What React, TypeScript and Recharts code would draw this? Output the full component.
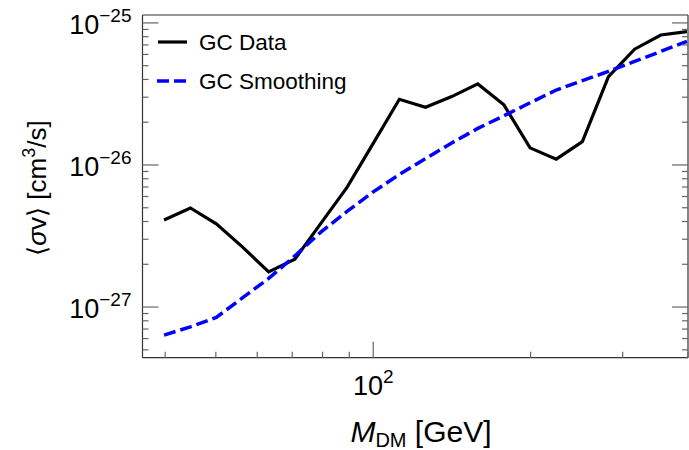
import React from 'react';
import { LineChart, Line, XAxis, YAxis } from 'recharts';

// Dark-matter mass [GeV]
const masses = [39.8, 44.7, 50.1, 56.2, 63.1, 70.8, 79.4, 89.1, 100, 112.2, 125.9, 141.3, 158.5, 177.8, 199.5, 223.9, 251.2, 281.8, 316.2, 354.8, 398.1];
// <sigma v> [cm^3/s]
const gcData = [4.10e-27, 4.98e-27, 3.85e-27, 2.65e-27, 1.77e-27, 2.17e-27, 3.88e-27, 6.95e-27, 1.42e-26, 2.90e-26, 2.55e-26, 3.03e-26, 3.72e-26, 2.65e-26, 1.32e-26, 1.10e-26, 1.46e-26, 4.19e-26, 6.53e-26, 8.22e-26, 8.69e-26];
const gcSmoothing = [6.35e-28, 7.25e-28, 8.45e-28, 1.16e-27, 1.59e-27, 2.29e-27, 3.37e-27, 4.71e-27, 6.47e-27, 8.57e-27, 1.11e-26, 1.43e-26, 1.81e-26, 2.22e-26, 2.74e-26, 3.37e-26, 3.92e-26, 4.56e-26, 5.36e-26, 6.30e-26, 7.41e-26];

const xMajor = [100];
const xTicks = [40, 50, 60, 70, 80, 90, 100, 200, 300, 400];
const yMajor = [1e-27, 1e-26, 1e-25];
const yTicks = [5e-28, 6e-28, 7e-28, 8e-28, 9e-28, 1e-27, 2e-27, 3e-27, 4e-27, 5e-27, 6e-27, 7e-27, 8e-27, 9e-27, 1e-26, 2e-26, 3e-26, 4e-26, 5e-26, 6e-26, 7e-26, 8e-26, 9e-26, 1e-25];
const xDomain = [36.2, 400];
const yDomain = [4.4e-28, 1.137e-25];

const seriesNames = ['GC Data', 'GC Smoothing'];

const data = masses.map((m, i) => ({ m, gc: gcData[i], smooth: gcSmoothing[i] }));

const FONT = 'Liberation Sans, Arial, Helvetica, sans-serif';
const TICK_COLOR = '#666';
const FRAME_COLOR = '#333';

const isMajor = (v: number, majors: number[]) => majors.some((m) => Math.abs(m - v) / m < 1e-6);

const makeTick = (side: 'bottom' | 'top' | 'left' | 'right', majors: number[], showLabel: boolean) => (props: any) => {
  const { x, y, payload } = props;
  const v = payload.value;
  const major = isMajor(v, majors);
  const len = major ? 16 : 6;
  let x2 = x, y2 = y;
  if (side === 'bottom') y2 = y - len;
  if (side === 'top') y2 = y + len;
  if (side === 'left') x2 = x + len;
  if (side === 'right') x2 = x - len;
  const exp = Math.round(Math.log10(v));
  const expStr = exp < 0 ? `\u2212${-exp}` : `${exp}`;
  return (
    <g>
      <line x1={x} y1={y} x2={x2} y2={y2} stroke={TICK_COLOR} strokeWidth={1.2} />
      {showLabel && major && side === 'left' && (
        <text x={x - 11} y={y + 11} textAnchor="end" fontFamily={FONT} fontSize={27} fill="#000">
          10<tspan dy={-12} fontSize={19}>{expStr}</tspan>
        </text>
      )}
      {showLabel && major && side === 'bottom' && (
        <text x={x} y={y + 37} textAnchor="middle" fontFamily={FONT} fontSize={27} fill="#000">
          10<tspan dy={-12} fontSize={19}>{expStr}</tspan>
        </text>
      )}
    </g>
  );
};

const LegendOverlay = () => (
  <svg width={240} height={80} style={{ position: 'absolute', left: 150, top: 25, display: 'block' }}>
    <line x1={8} y1={17} x2={37} y2={17} stroke="#000" strokeWidth={3.2} />
    <text x={49} y={25} fontFamily={FONT} fontSize={22.5} fill="#000">{seriesNames[0]}</text>
    <line x1={7} y1={56} x2={36} y2={56} stroke="#0000ff" strokeWidth={3.5} strokeDasharray="12 5" />
    <text x={49} y={64} fontFamily={FONT} fontSize={22.5} fill="#000">{seriesNames[1]}</text>
  </svg>
);

export default function App() {
  return (
    <div style={{ position: 'absolute', left: 0, top: 0, width: 689, height: 450 }}>
      <LineChart width={689} height={450} data={data} margin={{ top: 14, right: 0, bottom: 91.3, left: 141.5 }}>
        <XAxis
          dataKey="m"
          type="number"
          scale="log"
          domain={xDomain}
          allowDataOverflow
          ticks={xTicks}
          interval={0}
          height={1}
          tickSize={0}
          tickMargin={0}
          tickLine={false}
          axisLine={{ stroke: FRAME_COLOR, strokeWidth: 1.2 }}
          tick={makeTick('bottom', xMajor, true)}
          label={() => (
            <text x={421} y={442} textAnchor="middle" fontFamily={FONT} fontSize={30} fill="#000">
              <tspan fontStyle="italic">M</tspan>
              <tspan dy={5} fontSize={20}>DM</tspan>
              <tspan dy={-5}> [GeV]</tspan>
            </text>
          )}
        />
        <XAxis
          xAxisId="top"
          orientation="top"
          type="number"
          scale="log"
          domain={xDomain}
          allowDataOverflow
          ticks={xTicks}
          interval={0}
          height={1}
          tickSize={0}
          tickMargin={0}
          tickLine={false}
          axisLine={{ stroke: FRAME_COLOR, strokeWidth: 1.2 }}
          tick={makeTick('top', xMajor, false)}
        />
        <YAxis
          type="number"
          scale="log"
          domain={yDomain}
          allowDataOverflow
          ticks={yTicks}
          interval={0}
          width={1}
          tickSize={0}
          tickMargin={0}
          tickLine={false}
          axisLine={{ stroke: FRAME_COLOR, strokeWidth: 1.2 }}
          tick={makeTick('left', yMajor, true)}
          label={() => (
            <text x={0} y={0} transform="translate(46,188) rotate(-90)" textAnchor="middle" fontFamily={FONT} fontSize={26} fill="#000">
              {'\u27E8'}<tspan fontStyle="italic">{'\u03C3'}</tspan>v{'\u27E9'} [cm<tspan dy={-11} fontSize={18}>3</tspan><tspan dy={11}>/s]</tspan>
            </text>
          )}
        />
        <YAxis
          yAxisId="right"
          orientation="right"
          type="number"
          scale="log"
          domain={yDomain}
          allowDataOverflow
          ticks={yTicks}
          interval={0}
          width={1}
          tickSize={0}
          tickMargin={0}
          tickLine={false}
          axisLine={{ stroke: FRAME_COLOR, strokeWidth: 1.2 }}
          tick={makeTick('right', yMajor, false)}
        />
        <Line
          type="linear"
          dataKey="gc"
          name={seriesNames[0]}
          stroke="#000"
          strokeWidth={3.2}
          dot={false}
          isAnimationActive={false}
        />
        <Line
          type="linear"
          dataKey="smooth"
          name={seriesNames[1]}
          stroke="#0000ff"
          strokeWidth={3.5}
          strokeDasharray="12 5"
          dot={false}
          isAnimationActive={false}
        />
      </LineChart>
      <LegendOverlay />
    </div>
  );
}
